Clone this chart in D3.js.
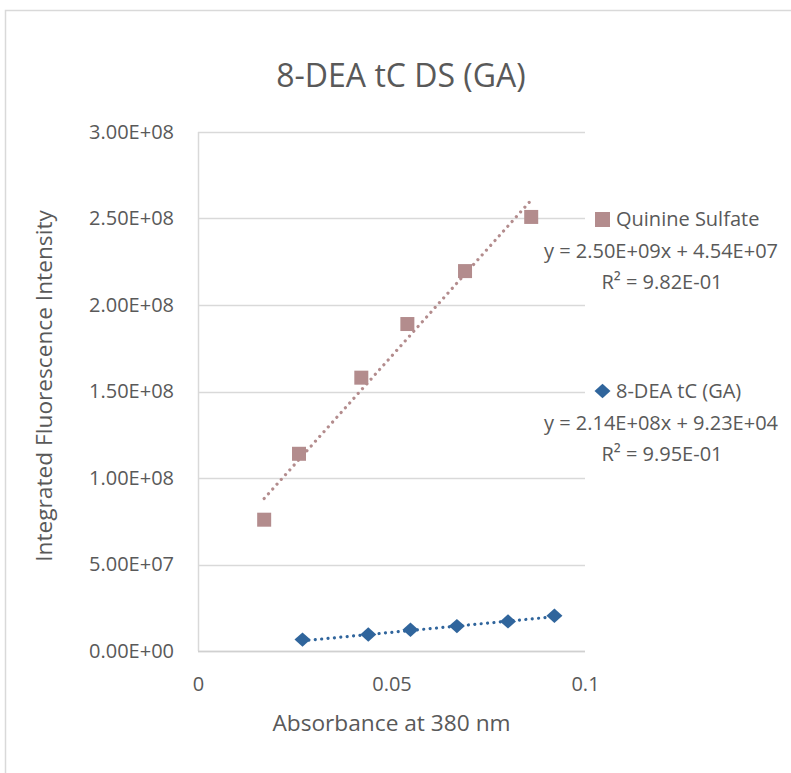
<!DOCTYPE html>
<html>
<head>
<meta charset="utf-8">
<script src="https://cdn.jsdelivr.net/npm/d3@7"></script>
<style>
  html, body { margin: 0; padding: 0; background: #fff; }
  svg { display: block; font-family: "Open Sans", "Noto Sans", sans-serif; }
</style>
</head>
<body>
<svg id="chart" width="791" height="773"></svg>
<script>
// Quinine sulfate reference standard
const quinineAbs = [0.0171, 0.0261, 0.0422, 0.0541, 0.0690, 0.0861];
const quinineFluor = [7.59e7, 1.14e8, 1.58e8, 1.89e8, 2.196e8, 2.509e8];
const quinineFit = { slope: 2.50e9, intercept: 4.54e7 };

// 8-DEA tC (GA) sample
const deaAbs = [0.0270, 0.0440, 0.0549, 0.0669, 0.0801, 0.0921];
const deaFluor = [6.6e6, 9.5e6, 1.23e7, 1.44e7, 1.71e7, 2.04e7];
const deaFit = { slope: 2.14e8, intercept: 9.23e4 };

// Axis ticks and their printed labels
const xTicks = [0, 0.05, 0.1];
const xTickLabels = ["0", "0.05", "0.1"];
const yTicks = [0, 5e7, 1e8, 1.5e8, 2e8, 2.5e8, 3e8];
const yTickLabels = ["0.00E+00", "5.00E+07", "1.00E+08", "1.50E+08", "2.00E+08", "2.50E+08", "3.00E+08"];

const seriesNames = ["Quinine Sulfate", "8-DEA tC (GA)"];
const equationLabels = ["y = 2.50E+09x + 4.54E+07", "y = 2.14E+08x + 9.23E+04"];
const r2Labels = ["R\u00B2 = 9.82E-01", "R\u00B2 = 9.95E-01"];

const textColor = "#595959";
const gridColor = "#d9d9d9";
const quinineColor = "#b38c8d";
const deaColor = "#30659c";

const svg = d3.select("#chart");

// Outer chart frame
svg.append("rect")
  .attr("x", 5.5).attr("y", 10.5)
  .attr("width", 900).attr("height", 900)
  .attr("fill", "#fff").attr("stroke", gridColor).attr("stroke-width", 1.5);

const plot = { left: 198, right: 585, top: 132, bottom: 651 };

const x = d3.scaleLinear().domain([0, 0.1]).range([plot.left, plot.right]);
const y = d3.scaleLinear().domain([0, 3e8]).range([plot.bottom, plot.top]);

// Horizontal gridlines
svg.append("g")
  .selectAll("line")
  .data(yTicks)
  .join("line")
  .attr("x1", plot.left).attr("x2", plot.right)
  .attr("y1", d => Math.round(y(d)) + 0.5).attr("y2", d => Math.round(y(d)) + 0.5)
  .attr("stroke", gridColor).attr("stroke-width", 1.5);

// Vertical axis line
svg.append("line")
  .attr("x1", plot.left + 0.5).attr("x2", plot.left + 0.5)
  .attr("y1", plot.top).attr("y2", plot.bottom)
  .attr("stroke", gridColor).attr("stroke-width", 1.5);

// Axes (labels only)
const yAxis = d3.axisLeft(y)
  .tickValues(yTicks)
  .tickFormat((d, i) => yTickLabels[i])
  .tickSize(0)
  .tickPadding(24);
const yg = svg.append("g").attr("transform", `translate(${plot.left},0)`).call(yAxis);

const xAxis = d3.axisBottom(x)
  .tickValues(xTicks)
  .tickFormat((d, i) => xTickLabels[i])
  .tickSize(0)
  .tickPadding(25.5);
const xg = svg.append("g").attr("transform", `translate(0,${plot.bottom})`).call(xAxis);

[yg, xg].forEach(g => {
  g.select(".domain").remove();
  g.selectAll("text")
    .attr("fill", textColor)
    .style("font-size", "20px")
    .style("font-family", "'Open Sans', 'Noto Sans', sans-serif");
});
xg.select(".domain").remove();
// bottom axis line
svg.append("line")
  .attr("x1", plot.left).attr("x2", plot.right)
  .attr("y1", plot.bottom + 0.5).attr("y2", plot.bottom + 0.5)
  .attr("stroke", "#d0d0d0").attr("stroke-width", 1.5);

// Trendlines drawn from the fitted equations across each series' x range
function trend(xs, fit, color) {
  const x0 = d3.min(xs), x1 = d3.max(xs);
  svg.append("line")
    .attr("x1", x(x0)).attr("y1", y(fit.slope * x0 + fit.intercept))
    .attr("x2", x(x1)).attr("y2", y(fit.slope * x1 + fit.intercept))
    .attr("stroke", color)
    .attr("stroke-width", 3.2)
    .attr("stroke-linecap", "round")
    .attr("stroke-dasharray", "0.01 6.4");
}
trend(quinineAbs, quinineFit, quinineColor);
trend(deaAbs, deaFit, deaColor);

// Markers
const sq = 14;
svg.append("g")
  .selectAll("rect")
  .data(quinineAbs.map((a, i) => [a, quinineFluor[i]]))
  .join("rect")
  .attr("x", d => x(d[0]) - sq / 2)
  .attr("y", d => y(d[1]) - sq / 2)
  .attr("width", sq).attr("height", sq)
  .attr("fill", quinineColor);

const dm = 8; // half-diagonal of diamond
const diamondPath = (cx, cy) => `M${cx},${cy - dm * 0.9}L${cx + dm},${cy}L${cx},${cy + dm * 0.9}L${cx - dm},${cy}Z`;
svg.append("g")
  .selectAll("path")
  .data(deaAbs.map((a, i) => [a, deaFluor[i]]))
  .join("path")
  .attr("d", d => diamondPath(x(d[0]), y(d[1])))
  .attr("fill", deaColor);

// Title
svg.append("text")
  .attr("x", 401).attr("y", 87)
  .attr("text-anchor", "middle")
  .attr("fill", textColor)
  .style("font-size", "32px")
  .text("8-DEA tC DS (GA)");

// Axis titles
svg.append("text")
  .attr("x", 391.5).attr("y", 731)
  .attr("text-anchor", "middle")
  .attr("fill", textColor)
  .style("font-size", "22.7px")
  .text("Absorbance at 380 nm");

svg.append("text")
  .attr("transform", "translate(52,386) rotate(-90)")
  .attr("text-anchor", "middle")
  .attr("fill", textColor)
  .style("font-size", "22.7px")
  .text("Integrated Fluorescence Intensity");

// Legend with trendline equations
const legendRows = [
  { top: 226, color: quinineColor, shape: "square" },
  { top: 398, color: deaColor, shape: "diamond" }
];
legendRows.forEach((row, i) => {
  const g = svg.append("g");
  if (row.shape === "square") {
    g.append("rect").attr("x", 595).attr("y", row.top - 14).attr("width", 15).attr("height", 15).attr("fill", row.color);
  } else {
    g.append("path").attr("d", diamondPath(602.5, row.top - 7)).attr("fill", row.color);
  }
  g.append("text").attr("x", 616).attr("y", row.top)
    .attr("fill", textColor).style("font-size", "20px").text(seriesNames[i]);
  g.append("text").attr("x", 661).attr("y", row.top + 31.5)
    .attr("text-anchor", "middle")
    .attr("fill", textColor).style("font-size", "20px").text(equationLabels[i]);
  g.append("text").attr("x", 662).attr("y", row.top + 63)
    .attr("text-anchor", "middle")
    .attr("fill", textColor).style("font-size", "20px").text(r2Labels[i]);
});
</script>
</body>
</html>
